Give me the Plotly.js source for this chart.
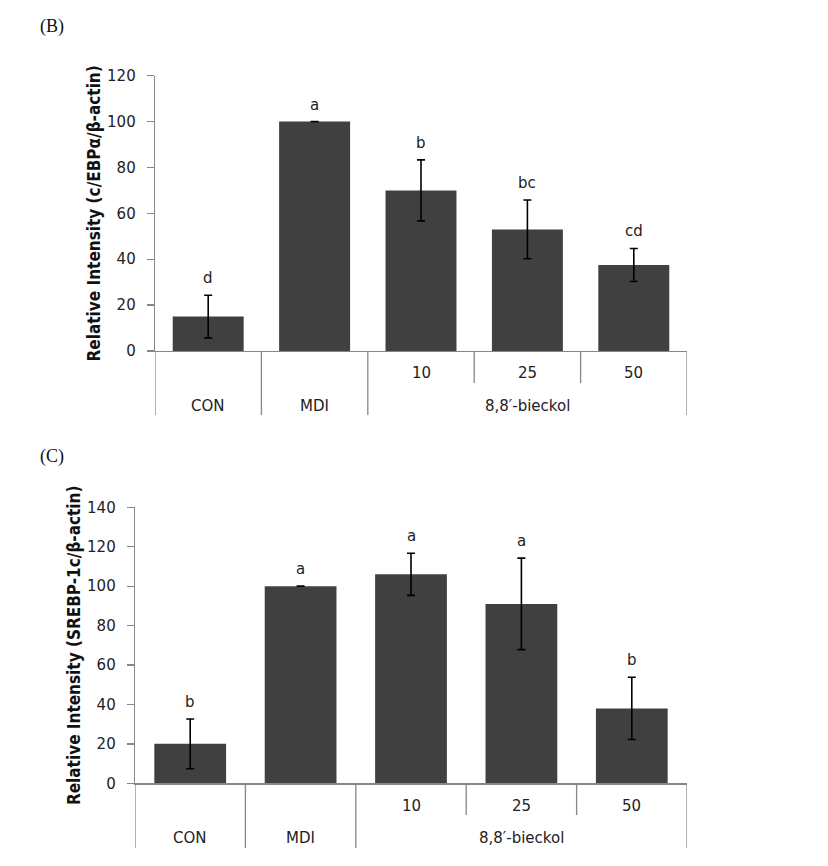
<!DOCTYPE html>
<html>
<head>
<meta charset="utf-8">
<script src="https://cdn.plot.ly/plotly-3.0.1.min.js"></script>
<style>html,body{margin:0;padding:0;background:#fff;}#chart{width:828px;height:866px;}</style>
</head>
<body>
<div id="chart"></div>
<script>
// ---- data ----
const doseLabels = ["", "", "10", "25", "50"];
const groupLabels = ["CON", "MDI", "8,8\u2032-bieckol"];
const groupSpans = [[0, 0], [1, 1], [2, 4]];
const cebpValues = [15, 100, 70, 53, 37.5];
const cebpErrors = [9.3, 0, 13.3, 12.8, 7.2];
const cebpLetters = ["d", "a", "b", "bc", "cd"];
const srebpValues = [20, 100, 106, 91, 38];
const srebpErrors = [12.6, 0, 10.7, 23.2, 15.8];
const srebpLetters = ["b", "a", "a", "a", "b"];
const panelLabels = ["(B)", "(C)"];
const yTitles = ["Relative Intensity (c/EBP\u03b1/\u03b2-actin)", "Relative Intensity (SREBP-1c/\u03b2-actin)"];

// ---- layout helpers ----
const W = 828, H = 866;
const px = v => v / W;
const py = v => (H - v) / H;
const idx = doseLabels.map((_, i) => i);

const barColor = "#404040";
const lineColor = "#868686";
const txtColor = "#222222";
const tickFont = {family: "DejaVu Sans, Verdana, sans-serif", size: 15, color: txtColor};
const lblFont = {family: "DejaVu Sans, Verdana, sans-serif", size: 15, color: txtColor};
const titleFont = {family: "Liberation Sans Narrow, DejaVu Sans Condensed, Arial Narrow, sans-serif", size: 17, color: "#111", weight: 700};

function barTrace(vals, errs, xa, ya, w) {
  return {
    type: "bar", x: idx, y: vals, xaxis: xa, yaxis: ya, width: w,
    marker: {color: barColor, line: {width: 0}},
    error_y: {type: "data", array: errs, visible: true, color: "#000", thickness: 1.6, width: 4},
    hoverinfo: "y", showlegend: false
  };
}

const data = [
  barTrace(cebpValues, cebpErrors, "x", "y", 0.667),
  barTrace(srebpValues, srebpErrors, "x2", "y2", 0.65)
];

const panels = [
  {xa: "x", ya: "y", vals: cebpValues, errs: cebpErrors, letters: cebpLetters,
   axisTop: 351, shortBot: 383, longBot: 415, row1: 373, row2: 406, label: [52, 26]},
  {xa: "x2", ya: "y2", vals: srebpValues, errs: srebpErrors, letters: srebpLetters,
   axisTop: 783.3, shortBot: 815, longBot: 848, row1: 806, row2: 838, label: [52, 456]}
];

const annotations = [];
const shapes = [];
panels.forEach((p, k) => {
  // significance letters
  p.letters.forEach((t, i) => annotations.push({
    xref: p.xa, yref: p.ya, x: i, y: p.vals[i] + p.errs[i], text: t, showarrow: false,
    yanchor: "bottom", yshift: 6, font: lblFont
  }));
  // dose row
  doseLabels.forEach((t, i) => { if (t) annotations.push({
    xref: p.xa, yref: "paper", x: i, y: py(p.row1), text: t, showarrow: false,
    yanchor: "middle", font: lblFont
  }); });
  // group row
  groupLabels.forEach((t, g) => annotations.push({
    xref: p.xa, yref: "paper", x: (groupSpans[g][0] + groupSpans[g][1]) / 2, y: py(p.row2), text: t,
    showarrow: false, yanchor: "middle", font: lblFont
  }));
  // table dividers
  for (let i = 0; i <= doseLabels.length; i++) {
    const xb = i - 0.5;
    const isGroupEdge = groupSpans.some(s => s[0] - 0.5 === xb || s[1] + 0.5 === xb);
    shapes.push({type: "line", xref: p.xa, yref: "paper", x0: xb, x1: xb,
      y0: py(p.axisTop), y1: py(isGroupEdge ? p.longBot : p.shortBot),
      line: {color: lineColor, width: 1.3}});
  }
  // panel label
  annotations.push({xref: "paper", yref: "paper", x: px(p.label[0]), y: py(p.label[1]), text: panelLabels[k],
    showarrow: false, xanchor: "center", yanchor: "middle",
    font: {family: "Liberation Serif, DejaVu Serif, serif", size: 18, color: "#111"}});
});

function yaxis(dom, range, title) {
  return {domain: dom, range: range, dtick: 20, showgrid: false, zeroline: false,
    showline: true, linecolor: lineColor, linewidth: 1.3, ticks: "outside", ticklen: 7,
    ticklabelstandoff: 8,
    tickcolor: lineColor, tickwidth: 1.3, tickfont: tickFont, fixedrange: true,
    title: {text: title, font: titleFont, standoff: 2}};
}
function xaxis(dom, anchor) {
  return {domain: dom, range: [-0.5, doseLabels.length - 0.5], anchor: anchor, showgrid: false,
    zeroline: false, showline: true, linecolor: lineColor, linewidth: 1.3, ticks: "",
    showticklabels: false, fixedrange: true};
}

const layout = {
  width: W, height: H, margin: {l: 0, r: 0, t: 0, b: 0},
  paper_bgcolor: "#fff", plot_bgcolor: "#fff", showlegend: false,
  xaxis: xaxis([px(155), px(687)], "y"),
  yaxis: yaxis([py(351), py(75.7)], [0, 120], yTitles[0]),
  xaxis2: xaxis([px(135), px(687)], "y2"),
  yaxis2: Object.assign(yaxis([py(783.3), py(507.3)], [0, 140], yTitles[1]), {anchor: "x2"}),
  annotations: annotations, shapes: shapes
};
layout.yaxis.anchor = "x";

Plotly.newPlot("chart", data, layout, {displayModeBar: false, staticPlot: true});
</script>
</body>
</html>
